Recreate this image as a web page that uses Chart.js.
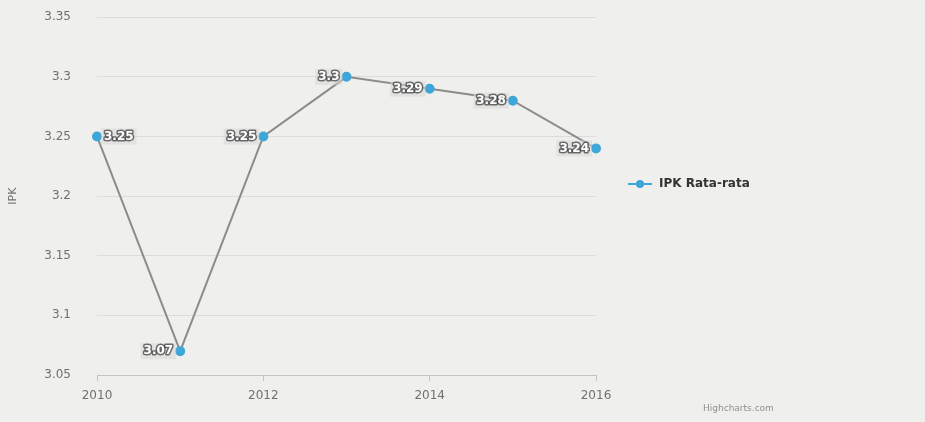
<!DOCTYPE html>
<html>
<head>
<meta charset="utf-8">
<script src="https://cdn.jsdelivr.net/npm/chart.js@4/dist/chart.umd.min.js"></script>
<style>
  html, body { margin: 0; padding: 0; background: #efefed; }
  #wrap { width: 925px; height: 422px; position: relative; }
</style>
</head>
<body>
<div id="wrap"><canvas id="ipkChart" width="925" height="422"></canvas></div>
<script>
// data
const years = [2010, 2011, 2012, 2013, 2014, 2015, 2016];
const ipkValues = [3.25, 3.07, 3.25, 3.3, 3.29, 3.28, 3.24];
const yTicks = [3.05, 3.1, 3.15, 3.2, 3.25, 3.3, 3.35];
const xTicks = [2010, 2012, 2014, 2016];
const seriesName = 'IPK Rata-rata';
const yAxisTitle = 'IPK';

const FONT = '"DejaVu Sans", "Liberation Sans", sans-serif';
const lineColor = '#8c8c8c';
const pointColor = '#3ea6d8';

// value labels next to each point (white text, dark outline)
const valueLabels = {
    id: 'valueLabels',
    afterDatasetsDraw(chart) {
        const ctx = chart.ctx;
        const area = chart.chartArea;
        const meta = chart.getDatasetMeta(0);
        ctx.save();
        ctx.font = 'bold 12px ' + FONT;
        ctx.textBaseline = 'middle';
        meta.data.forEach(function(pt, i) {
            const txt = String(ipkValues[i]);
            const w = ctx.measureText(txt).width;
            let x = pt.x - 7 - w;
            if (x < area.left) x = pt.x + 7;
            ctx.fillStyle = 'rgba(215,215,215,0.55)';
            ctx.fillRect(x - 3, pt.y - 8, w + 6, 16);
            ctx.lineJoin = 'round';
            ctx.lineWidth = 3;
            ctx.strokeStyle = 'rgba(40,40,40,0.65)';
            ctx.strokeText(txt, x, pt.y);
            ctx.fillStyle = '#ffffff';
            ctx.fillText(txt, x, pt.y);
        });
        ctx.restore();
    }
};

// legend on the right plus the credit text
const sideLegend = {
    id: 'sideLegend',
    afterDraw(chart) {
        const ctx = chart.ctx;
        const ly = 184;
        ctx.save();
        ctx.strokeStyle = pointColor;
        ctx.lineWidth = 2;
        ctx.beginPath();
        ctx.moveTo(628, ly);
        ctx.lineTo(652, ly);
        ctx.stroke();
        ctx.fillStyle = pointColor;
        ctx.beginPath();
        ctx.arc(640, ly, 4, 0, Math.PI * 2);
        ctx.fill();
        ctx.fillStyle = '#333333';
        ctx.font = 'bold 12px ' + FONT;
        ctx.textBaseline = 'middle';
        ctx.fillText(seriesName, 659, ly);
        ctx.fillStyle = '#909090';
        ctx.font = '9px ' + FONT;
        ctx.fillText('Highcharts.com', 703, 409);
        ctx.restore();
    }
};

const ctx = document.getElementById('ipkChart').getContext('2d');
const ipkChart = new Chart(ctx, {
    type: 'line',
    data: {
        datasets: [{
            label: seriesName,
            data: years.map(function(y, i) { return { x: y, y: ipkValues[i] }; }),
            borderColor: lineColor,
            borderWidth: 2,
            pointBackgroundColor: pointColor,
            pointBorderColor: pointColor,
            pointRadius: 4,
            tension: 0,
            clip: false
        }]
    },
    options: {
        responsive: false,
        animation: false,
        layout: {
            padding: { left: 7, right: 329, top: 0, bottom: 0 }
        },
        scales: {
            x: {
                type: 'linear',
                min: 2010,
                max: 2016,
                afterBuildTicks: function(scale) {
                    scale.ticks = xTicks.map(function(v) { return { value: v }; });
                },
                afterFit: function(scale) { scale.height = 47; },
                grid: {
                    drawOnChartArea: false,
                    drawTicks: true,
                    tickLength: 6,
                    color: '#c4c4c4'
                },
                border: { color: '#c4c4c4', width: 1 },
                ticks: {
                    color: '#707070',
                    font: { family: FONT, size: 12 },
                    padding: 8,
                    maxRotation: 0,
                    callback: function(v) { return String(v); }
                }
            },
            y: {
                min: 3.05,
                max: 3.35,
                afterBuildTicks: function(scale) {
                    scale.ticks = yTicks.map(function(v) { return { value: v }; });
                },
                afterFit: function(scale) { scale.width = 90; },
                grid: {
                    color: '#dcdcdc',
                    drawTicks: true,
                    tickLength: 16,
                    tickColor: 'rgba(0,0,0,0)'
                },
                border: { display: false },
                ticks: {
                    color: '#707070',
                    font: { family: FONT, size: 12 },
                    padding: 10,
                    callback: function(v) { return String(Math.round(v * 100) / 100); }
                },
                title: {
                    display: true,
                    text: yAxisTitle,
                    color: '#707070',
                    font: { family: FONT, size: 11 },
                    padding: { top: 0, bottom: 0 }
                }
            }
        },
        plugins: {
            legend: { display: false },
            tooltip: { enabled: false }
        }
    },
    plugins: [valueLabels, sideLegend]
});
</script>
</body>
</html>
